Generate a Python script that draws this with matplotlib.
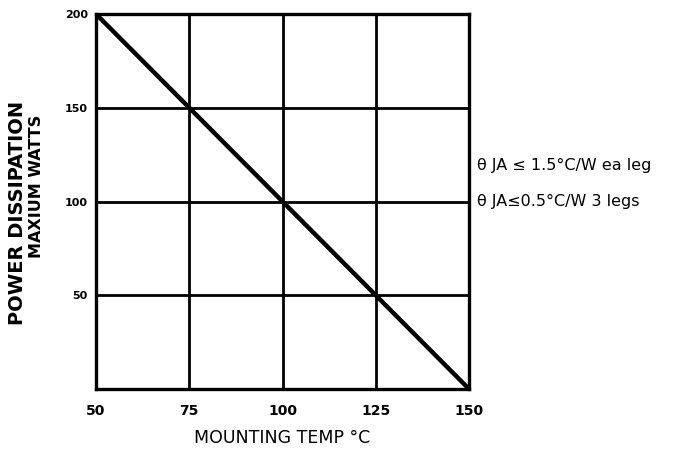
import matplotlib.pyplot as plt

# derating curve
temp_c = [50, 150]
power_w = [200, 0]

x_ticks = [50, 75, 100, 125, 150]
y_ticks = [50, 100, 150, 200]

notes = [
    (165, "\u03b8 JA \u2264 1.5\u00b0C/W ea leg"),
    (201, "\u03b8 JA\u22640.5\u00b0C/W 3 legs"),
]

fig = plt.figure(figsize=(6.78, 4.51), dpi=100)
ax = fig.add_axes([96 / 678, 1 - 389 / 451, 373 / 678, 375 / 451])

ax.plot(temp_c, power_w, color="black", linewidth=3.2, solid_capstyle="butt")
ax.set_xlim(50, 150)
ax.set_ylim(0, 200)
ax.set_xticks(x_ticks)
ax.set_yticks(y_ticks)
ax.set_xticklabels([str(t) for t in x_ticks], fontsize=10, fontweight="bold")
ax.set_yticklabels([str(t) for t in y_ticks], fontsize=8, fontweight="bold")
ax.tick_params(axis="x", length=0, pad=11)
ax.tick_params(axis="y", length=0, pad=6)
ax.grid(True, color="black", linewidth=2.0)
for s in ax.spines.values():
    s.set_linewidth(2.4)

ax.set_xlabel("MOUNTING TEMP \u00b0C", fontsize=12.5, labelpad=8)

fig.text(18 / 678, 1 - 213 / 451, "POWER DISSIPATION", rotation=90,
         fontsize=14, fontweight="bold", ha="center", va="center")
fig.text(37 / 678, 1 - 186 / 451, "MAXIUM WATTS", rotation=90,
         fontsize=11.5, fontweight="bold", ha="center", va="center")

for ypix, txt in notes:
    fig.text(477 / 678, 1 - ypix / 451, txt, fontsize=11.5, va="center", ha="left")

fig.savefig("out.png", dpi=100)
